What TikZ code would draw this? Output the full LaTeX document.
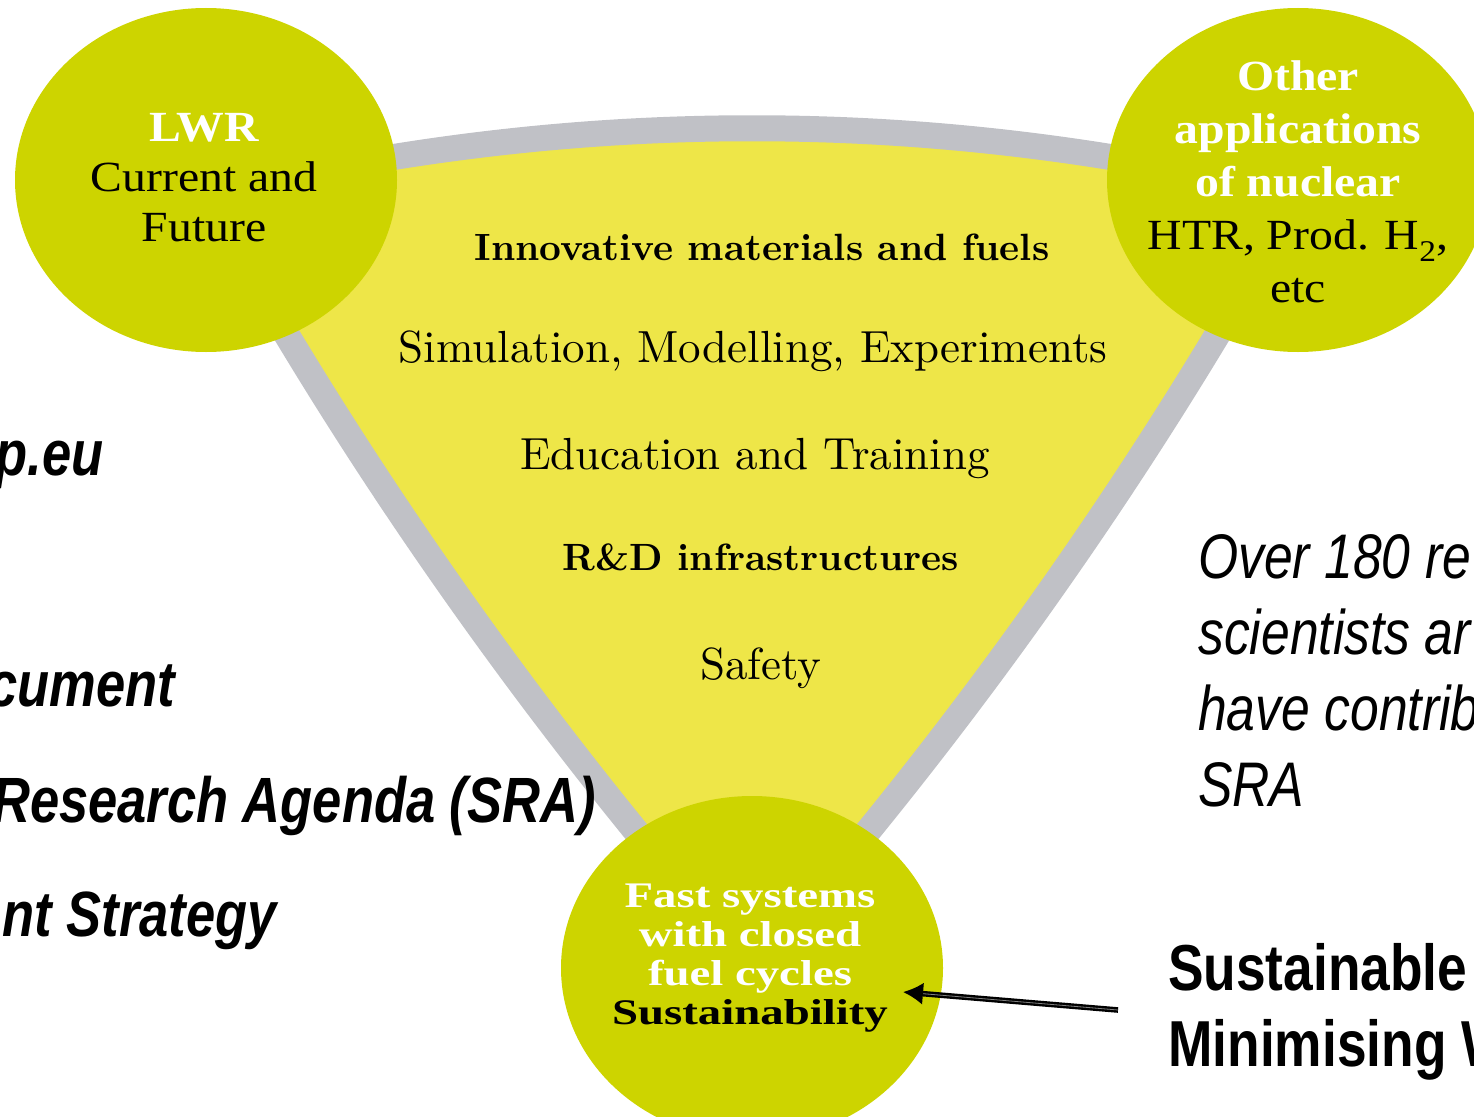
\documentclass[tikz,border=0pt]{standalone}
\usepackage{fontspec}
\newfontfamily\topicfont{lmroman10-regular.otf}[BoldFont=lmroman10-bold.otf]
\newfontfamily\diagfont[FakeStretch=1.11]{Liberation Serif}
\newfontfamily\fastfont[FakeStretch=1.3]{Liberation Serif}
\newfontfamily\slidefont[FakeStretch=0.82]{Liberation Sans}
\usetikzlibrary{arrows.meta}
\definecolor{disc}{RGB}{205,212,0}
\definecolor{band}{RGB}{238,230,72}
\definecolor{rim}{RGB}{192,193,198}
\newcommand{\fs}[2]{\fontsize{#1}{#2}\selectfont}

\begin{document}
\begin{tikzpicture}[x=1pt,y=-1pt,
  every node/.style={inner sep=0pt},
  topic/.style={anchor=base,font=\topicfont\fs{45}{54}},
  bftopic/.style={anchor=base,font=\topicfont\bfseries\fs{38}{46}},
  circtext/.style={align=center,font=\diagfont\fs{43}{50}},
  lefttext/.style={anchor=base east,font=\slidefont\bfseries\itshape\fs{64}{76}},
  pointer/.style={-{Latex[length=20pt,width=22pt]},double=gray,double distance=0.8pt,line width=2.4pt}]
\useasboundingbox (0,0) rectangle (1474,1116);
% curved triangle with its grey rim
\filldraw[fill=band,draw=rim,line width=26pt,line join=round]
  (206,195) .. controls (570,106) and (934,106) .. (1298,195)
  .. controls (1149,465) and (966,726) .. (752,968)
  .. controls (538,726) and (355,465) .. cycle;
% the three discs at the corners
\fill[disc] \foreach \x/\y in {206/180,1298/180,752/968} {(\x,\y) ellipse (191 and 172)};
\node[circtext] (lwr) at (204,178) {{\bfseries\color{white}LWR}\\Current and\\Future};
\node[circtext,font=\diagfont\fs{43}{53}] (other) at (1298,182)
  {{\bfseries\color{white}Other}\\{\bfseries\color{white}applications}\\{\bfseries\color{white}of nuclear}\\HTR, Prod. H\textsubscript{2},\\etc};
\node[align=center,font=\fastfont\bfseries\fs{36}{39}] (fast) at (750,958)
  {{\color{white}Fast systems}\\{\color{white}with closed}\\{\color{white}fuel cycles}\\Sustainability};
% research topics
\node[bftopic] (innov) at (762,260) {Innovative materials and fuels};
\node[topic] (simul) at (753,362) {Simulation, Modelling, Experiments};
\node[topic] (educ) at (755,469) {Education and Training};
\node[bftopic] (rnd) at (761,570) {R\&D infrastructures};
\node[topic] (safety) at (761,679) {Safety};
% slide text
\node[lefttext] (site) at (104,475) {p.eu};
\node[lefttext] (doc) at (175,706) {cument};
\node[lefttext] (sra) at (596,822) {Research Agenda (SRA)};
\node[lefttext] (strat) at (277,936) {nt Strategy};
\node[anchor=base west,align=left,font=\slidefont\itshape\fs{63}{76}] (over) at (1198,806)
  {Over 180 re\\scientists ar\\have contrib\\SRA};
\node[anchor=base west,align=left,font=\slidefont\bfseries\fs{65}{76}] (goal) at (1168,1066)
  {Sustainable\\Minimising W};
\coordinate (tail) at (1118,1010);
\coordinate (tip) at (903,992);
\draw[pointer] (tail) -- (tip);
\end{tikzpicture}
\end{document}
